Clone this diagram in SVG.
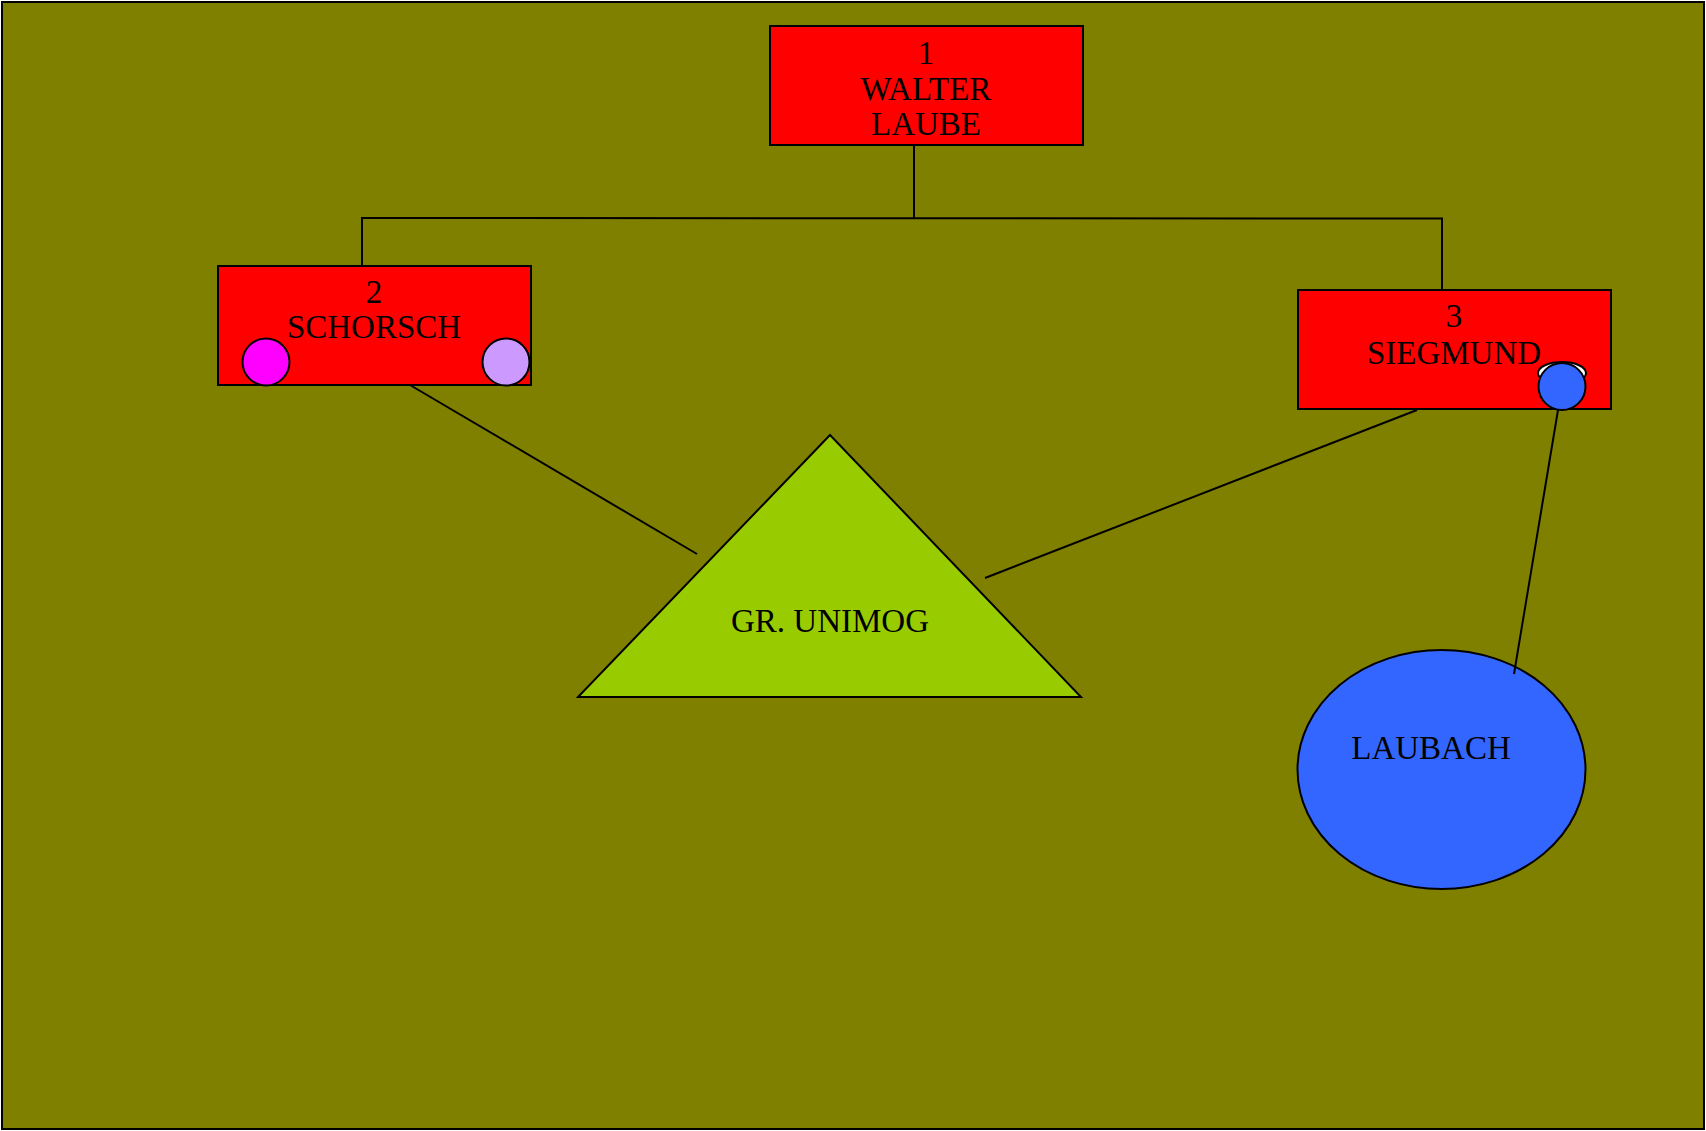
<svg xmlns="http://www.w3.org/2000/svg" width="1706" height="1131" viewBox="0 0 1706 1131">
<style>
.bg{fill:#808000;stroke:#000;stroke-width:2}
.box{fill:#FF0000;stroke:#000;stroke-width:2}
.ln{fill:none;stroke:#000;stroke-width:2}
.t{font-family:"Liberation Serif","Times New Roman",serif;font-size:33px;fill:#000;text-anchor:middle}
.dot{stroke:#000;stroke-width:2}
</style>
<rect class="bg" x="2" y="2" width="1702" height="1127"/>
<g id="node1">
<rect class="box" x="770" y="26" width="313" height="119"/>
<text class="t" x="926" y="64">1</text>
<text class="t" x="926" y="100">WALTER</text>
<text class="t" x="926" y="135">LAUBE</text>
</g>
<g id="node2">
<rect class="box" x="218" y="266" width="313" height="119"/>
<text class="t" x="374" y="303">2</text>
<text class="t" x="374" y="338">SCHORSCH</text>
<circle class="dot" cx="266" cy="362" r="23.5" fill="#FF00FF"/>
<circle class="dot" cx="506" cy="362" r="23.5" fill="#CC99FF"/>
</g>
<g id="node3">
<rect class="box" x="1298" y="290" width="313" height="119"/>
<text class="t" x="1454" y="363.5">SIEGMUND</text>
<text class="t" x="1454" y="327">3</text>
<ellipse class="dot" cx="1562" cy="373" rx="24" ry="11" fill="#FFFFFF"/>
<circle class="dot" cx="1562" cy="386.5" r="23.5" fill="#3366FF"/>
</g>
<g id="unimog">
<polygon class="ln" points="830,435 578,697 1081,697" style="fill:#99CC00"/>
<text class="t" x="830" y="632">GR. UNIMOG</text>
</g>
<g id="laubach">
<ellipse class="ln" cx="1441.5" cy="769.5" rx="144" ry="119.5" style="fill:#3366FF"/>
<text class="t" x="1431" y="759">LAUBACH</text>
</g>
<g id="connectors">
<polyline class="ln" points="914,145 914,218"/>
<polyline class="ln" points="362,266 362,218 1442,218.5 1442,290"/>
<line class="ln" x1="410" y1="385" x2="697" y2="554"/>
<line class="ln" x1="1417" y1="410" x2="985" y2="578"/>
<line class="ln" x1="1558" y1="410" x2="1514" y2="674"/>
</g>
</svg>
